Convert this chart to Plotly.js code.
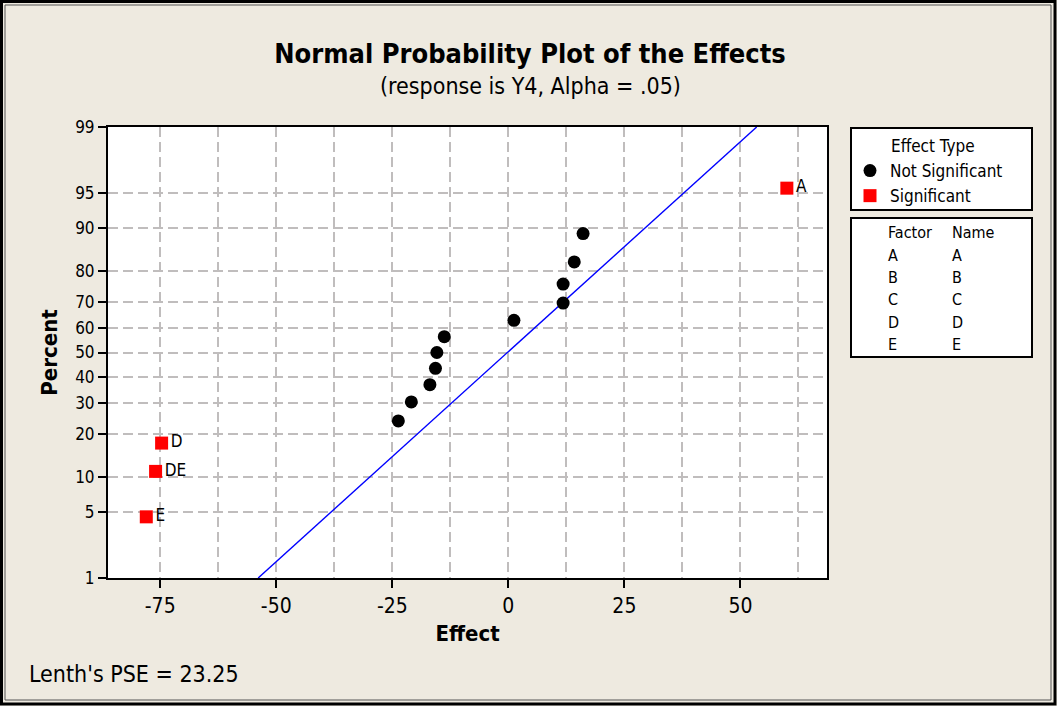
<!DOCTYPE html>
<html><head><meta charset="utf-8">
<script src="https://cdn.plot.ly/plotly-3.0.1.min.js"></script>
<style>html,body{margin:0;padding:0;background:#eeeae0;} #chart{width:1057px;height:706px;}</style>
</head><body><div id="chart"></div>
<script>
// ---- data ----
const notSigEffects  = [-23.7, -20.9, -16.9, -15.7, -15.4, -13.8, 1.2, 11.8, 11.8, 14.2, 16.1];
const notSigPercents = [24.0, 30.5, 37.0, 43.5, 50.0, 56.5, 63.0, 69.5, 76.0, 82.5, 89.0];
const sigEffects  = [-78.0, -76.0, -74.7, 60.0];
const sigPercents = [4.5, 11.0, 17.5, 95.5];
const sigNames    = ['E', 'DE', 'D', 'A'];
const lineEffects  = [-53.9, 53.5];
const linePercents = [1, 99];
const yTickPercents = [1, 5, 10, 20, 30, 40, 50, 60, 70, 80, 90, 95, 99];
const xTickValues = [-75, -50, -25, 0, 25, 50];
const xTickLabels = ['-75', '-50', '-25', '0', '25', '50'];
const factorLetters = ['A', 'B', 'C', 'D', 'E'];
const factorNames   = ['A', 'B', 'C', 'D', 'E'];
const lenthPSE = 23.25;

// normal-probability scale (inverse normal CDF)
function probit(p) {
  const a=[-3.969683028665376e+01,2.209460984245205e+02,-2.759285104469687e+02,1.383577518672690e+02,-3.066479806614716e+01,2.506628277459239e+00];
  const b=[-5.447609879822406e+01,1.615858368580409e+02,-1.556989798598866e+02,6.680131188771972e+01,-1.328068155288572e+01];
  const c=[-7.784894002430293e-03,-3.223964580411365e-01,-2.400758277161838e+00,-2.549732539343734e+00,4.374664141464968e+00,2.938163982698783e+00];
  const d=[7.784695709041462e-03,3.224671290700398e-01,2.445134137142996e+00,3.754408661907416e+00];
  const pl=0.02425, ph=1-pl; let q, r;
  if (p < pl) { q=Math.sqrt(-2*Math.log(p)); return (((((c[0]*q+c[1])*q+c[2])*q+c[3])*q+c[4])*q+c[5])/((((d[0]*q+d[1])*q+d[2])*q+d[3])*q+1); }
  if (p > ph) { q=Math.sqrt(-2*Math.log(1-p)); return -(((((c[0]*q+c[1])*q+c[2])*q+c[3])*q+c[4])*q+c[5])/((((d[0]*q+d[1])*q+d[2])*q+d[3])*q+1); }
  q=p-0.5; r=q*q;
  return (((((a[0]*r+a[1])*r+a[2])*r+a[3])*r+a[4])*r+a[5])*q/(((((b[0]*r+b[1])*r+b[2])*r+b[3])*r+b[4])*r+1);
}
const z = arr => arr.map(p => probit(p / 100));

const FONT = "'DejaVu Sans Condensed', Roboto, sans-serif";
const W = 1057, H = 706, ML = 108, MR = 230, MT = 127, MB = 128;
const PW = W - ML - MR, PH = H - MT - MB;
const px = v => (v - ML) / PW;          // pixel -> paper x
const py = v => (H - MB - v) / PH;      // pixel -> paper y

const traces = [
  { x: lineEffects, y: z(linePercents), mode: 'lines', line: {color: '#0000ff', width: 1.4},
    showlegend: false, hoverinfo: 'skip' },
  { x: notSigEffects, y: z(notSigPercents), mode: 'markers', name: 'Not Significant',
    marker: {symbol: 'circle', size: 13, color: '#000000'} },
  { x: sigEffects, y: z(sigPercents), mode: 'markers+text', name: 'Significant',
    text: sigNames, textposition: 'middle right',
    textfont: {family: FONT, size: 17, color: '#000'},
    marker: {symbol: 'square', size: 13, color: '#ff0000'} }
];

const gridStyle = {gridcolor: '#c0bdbd', gridwidth: 2, griddash: '10px,5px'};

const annotations = [
  {text: '(response is Y4, Alpha = .05)', xref: 'paper', yref: 'paper', x: px(530), y: py(86),
   xanchor: 'center', yanchor: 'middle', showarrow: false, font: {family: FONT, size: 23, color: '#000'}},
  {text: "Lenth's PSE = " + lenthPSE, xref: 'paper', yref: 'paper', x: px(27), y: py(674),
   xanchor: 'left', yanchor: 'middle', showarrow: false, font: {family: FONT, size: 23, color: '#000'}},
  {text: 'Effect Type', xref: 'paper', yref: 'paper', x: px(889), y: py(146),
   xanchor: 'left', yanchor: 'middle', showarrow: false, font: {family: FONT, size: 17, color: '#000'}},
  {text: 'Factor', xref: 'paper', yref: 'paper', x: px(886), y: py(232),
   xanchor: 'left', yanchor: 'middle', showarrow: false, font: {family: FONT, size: 16, color: '#000'}},
  {text: 'Name', xref: 'paper', yref: 'paper', x: px(950), y: py(232),
   xanchor: 'left', yanchor: 'middle', showarrow: false, font: {family: FONT, size: 16, color: '#000'}}
];
factorLetters.forEach((f, i) => {
  annotations.push({text: f, xref: 'paper', yref: 'paper', x: px(886), y: py(255 + i * 22.4),
    xanchor: 'left', yanchor: 'middle', showarrow: false, font: {family: FONT, size: 16, color: '#000'}});
  annotations.push({text: factorNames[i], xref: 'paper', yref: 'paper', x: px(950), y: py(255 + i * 22.4),
    xanchor: 'left', yanchor: 'middle', showarrow: false, font: {family: FONT, size: 16, color: '#000'}});
});

const shapes = [
  {type: 'rect', xref: 'paper', yref: 'paper', x0: px(851), x1: px(1032), y0: py(128), y1: py(210),
   line: {color: '#000', width: 2}, fillcolor: '#ffffff', layer: 'below'},
  {type: 'rect', xref: 'paper', yref: 'paper', x0: px(851), x1: px(1032), y0: py(218), y1: py(357),
   line: {color: '#000', width: 2}, fillcolor: '#ffffff', layer: 'below'},
  {type: 'rect', xref: 'paper', yref: 'paper', x0: px(1.5), x1: px(1055), y0: py(1.5), y1: py(704),
   line: {color: '#000', width: 3}},
  {type: 'rect', xref: 'paper', yref: 'paper', x0: px(5), x1: px(1051), y0: py(5), y1: py(700),
   line: {color: '#555', width: 1}}
];

const layout = {
  width: W, height: H,
  margin: {l: ML, r: MR, t: MT, b: MB, pad: 0},
  paper_bgcolor: '#eeeae0', plot_bgcolor: '#ffffff',
  font: {family: FONT, color: '#000'},
  hovermode: false,
  title: {text: 'Normal Probability Plot of the Effects', x: 530 / W, xanchor: 'center',
          xref: 'container', y: 1 - 54 / H, yref: 'container', yanchor: 'middle',
          font: {family: FONT, size: 27, weight: 'bold', color: '#000'}},
  xaxis: Object.assign({
    range: [-86.25, 68.65], tickvals: xTickValues, ticktext: xTickLabels,
    ticks: 'outside', ticklen: 8, tickwidth: 2, tickcolor: '#000',
    showline: true, linecolor: '#000', linewidth: 2, mirror: true, zeroline: false, showgrid: true,
    tickfont: {family: FONT, size: 21, color: '#000'},
    minor: Object.assign({dtick: 12.5, tick0: 0, showgrid: true, ticks: ''}, gridStyle),
    title: {text: 'Effect', standoff: 8, font: {family: FONT, size: 22, weight: 'bold', color: '#000'}},
    fixedrange: true
  }, gridStyle),
  yaxis: Object.assign({
    range: [probit(0.01), probit(0.99)], tickvals: z(yTickPercents), ticktext: yTickPercents.map(String),
    ticks: 'outside', ticklen: 8, tickwidth: 2, tickcolor: '#000',
    showline: true, linecolor: '#000', linewidth: 2, mirror: true, zeroline: false, showgrid: true,
    tickfont: {family: FONT, size: 17, color: '#000'},
    title: {text: 'Percent', standoff: 11, font: {family: FONT, size: 22, weight: 'bold', color: '#000'}},
    fixedrange: true
  }, gridStyle),
  showlegend: true,
  legend: {x: px(850), xanchor: 'left', y: py(153), yanchor: 'top', bgcolor: 'rgba(0,0,0,0)',
           borderwidth: 0, font: {family: FONT, size: 17, color: '#000'}, itemclick: false, itemdoubleclick: false},
  shapes: shapes,
  annotations: annotations
};

Plotly.newPlot('chart', traces, layout, {staticPlot: true, displayModeBar: false});
</script></body></html>
